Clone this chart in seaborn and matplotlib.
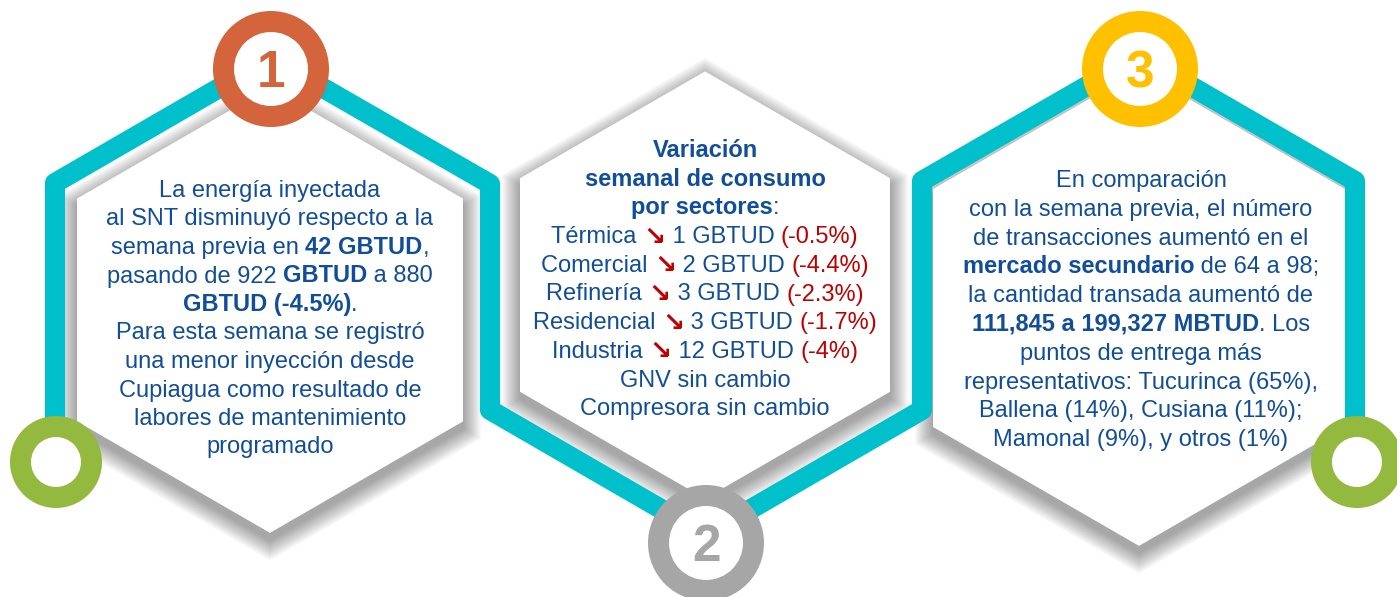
import numpy as np
import pandas as pd
import matplotlib
matplotlib.use('Agg')
import matplotlib.pyplot as plt
import seaborn as sns
from matplotlib.patches import Polygon, Circle

# Data
energy_prev = 922
energy_now = 880
energy_drop = 42
energy_pct = '-4.5%'

sectors = ['Térmica', 'Comercial', 'Refinería', 'Residencial', 'Industria']
sector_drop = [1, 2, 3, 3, 12]
sector_pct = ['-0.5%', '-4.4%', '-2.3%', '-1.7%', '-4%']
no_change = ['GNV', 'Compresora']

trans_prev, trans_now = 64, 98
qty_prev, qty_now = 111845, 199327
points = ['Tucurinca', 'Ballena', 'Cusiana', 'Mamonal', 'otros']
point_share = [65, 14, 11, 9, 1]

# Colours
TEAL = '#00C1CB'
BLUE = '#114E9A'
RED = '#C00000'
ring_colors = ['#D3643C', '#A6A6A6', '#FFC000']
GREEN = '#93B93E'

sns.set_theme(style='white')
plt.rcParams['font.family'] = ['Liberation Sans', 'DejaVu Sans']

fig = plt.figure(figsize=(13.97, 5.97), dpi=100)
ax = fig.add_axes([0, 0, 1, 1])


def hexagon(cx, cy, hw):
    r = hw / np.cos(np.radians(30))
    ang = np.radians([90, 30, -30, -90, -150, 150])
    return np.column_stack([cx + r * np.cos(ang), cy - r * np.sin(ang)])


# white hexagons with soft shadow
hexes = [(270, 310, 193), (705, 285, 185), (1139, 308, 206)]
for cx, cy, hw in hexes:
    for e in np.linspace(18, 1, 14):
        ax.add_patch(Polygon(hexagon(cx, cy + 7, hw + e), closed=True,
                             fc='black', ec='none', alpha=0.026, zorder=1))
    ax.add_patch(Polygon(hexagon(cx, cy, hw), closed=True, fc='white',
                         ec='none', zorder=2))

# teal connector
path = pd.DataFrame({
    'x': [55, 55, 271, 490, 490, 706, 922, 922, 1139, 1355, 1355],
    'y': [462, 183, 58, 184, 410, 535, 410, 181, 56, 181, 462],
})
sns.lineplot(data=path, x='x', y='y', sort=False, estimator=None, color=TEAL,
             linewidth=14.5, ax=ax, zorder=3, solid_joinstyle='round',
             solid_capstyle='butt')
ax.set_xlim(0, 1397)
ax.set_ylim(597, 0)
ax.axis('off')

# numbered rings
rings = [(271, 69), (706, 543), (1140, 69)]
for i, (cx, cy) in enumerate(rings):
    ax.add_patch(Circle((cx, cy), 58, fc=ring_colors[i], ec='none', zorder=4))
    ax.add_patch(Circle((cx, cy), 37, fc='white', ec='none', zorder=5))
    ax.text(cx, cy + 18, str(i + 1), fontsize=37, fontweight='bold',
            color=ring_colors[i], ha='center', va='baseline', zorder=6)

for cx, cy in [(56, 462), (1357, 462)]:
    ax.add_patch(Circle((cx, cy), 46, fc=GREEN, ec='none', zorder=4))
    ax.add_patch(Circle((cx, cy), 25, fc='white', ec='none', zorder=5))

# text blocks
FS = 17
N, B = 'normal', 'bold'
ARROW = '\u2198'

panel1 = [
    [('La energía inyectada', N, BLUE)],
    [('al SNT disminuyó respecto a la', N, BLUE)],
    [('semana previa en ', N, BLUE), (f'{energy_drop} GBTUD', B, BLUE), (',', N, BLUE)],
    [(f'pasando de {energy_prev} ', N, BLUE), ('GBTUD', B, BLUE), (f' a {energy_now}', N, BLUE)],
    [(f'GBTUD ({energy_pct})', B, BLUE), ('.', N, BLUE)],
    [('Para esta semana se registró', N, BLUE)],
    [('una menor inyección desde', N, BLUE)],
    [('Cupiagua como resultado de', N, BLUE)],
    [('labores de mantenimiento', N, BLUE)],
    [('programado', N, BLUE)],
]

panel2 = [
    [('Variación', B, BLUE)],
    [('semanal de consumo', B, BLUE)],
    [('por sectores', B, BLUE), (':', N, BLUE)],
]
for s, d, p in zip(sectors, sector_drop, sector_pct):
    panel2.append([(s + ' ', N, BLUE), (ARROW, 'heavy', RED),
                   (f' {d} GBTUD ', N, BLUE), (f'({p})', N, RED)])
for s in no_change:
    panel2.append([(f'{s} sin cambio', N, BLUE)])

panel3 = [
    [('En comparación', N, BLUE)],
    [('con la semana previa, el número', N, BLUE)],
    [('de transacciones aumentó en el', N, BLUE)],
    [('mercado secundario', B, BLUE), (f' de {trans_prev} a {trans_now};', N, BLUE)],
    [('la cantidad transada aumentó de', N, BLUE)],
    [(f'{qty_prev:,} a {qty_now:,} MBTUD', B, BLUE), ('. Los', N, BLUE)],
    [('puntos de entrega más', N, BLUE)],
    [(f'representativos: {points[0]} ({point_share[0]}%),', N, BLUE)],
    [(f'{points[1]} ({point_share[1]}%), {points[2]} ({point_share[2]}%);', N, BLUE)],
    [(f'{points[3]} ({point_share[3]}%), y {points[4]} ({point_share[4]}%)', N, BLUE)],
]

renderer = fig.canvas.get_renderer()


def seg_size(t):
    return FS * 1.12 if t == ARROW else FS


def advance(s, weight):
    fs = seg_size(s)
    t1 = ax.text(0, 0, '|' + s + '|', fontsize=fs, fontweight=weight)
    t2 = ax.text(0, 0, '||', fontsize=fs, fontweight=weight)
    w = t1.get_window_extent(renderer).width - t2.get_window_extent(renderer).width
    t1.remove()
    t2.remove()
    return w


def draw_block(lines, cx, y0, step):
    for k, segs in enumerate(lines):
        widths = [advance(t, w) for t, w, c in segs]
        x = cx - sum(widths) / 2
        for (t, w, c), wd in zip(segs, widths):
            dy = 1.5 if t == ARROW else 0
            ax.text(x, y0 + k * step + dy, t, fontsize=seg_size(t), fontweight=w,
                    color=c, ha='left', va='baseline', zorder=6)
            x += wd


draw_block(panel1, 270, 197, 28.5)
draw_block(panel2, 705, 157, 28.7)
draw_block(panel3, 1141, 187, 28.8)

fig.savefig('out.png', dpi=100, facecolor='white')
